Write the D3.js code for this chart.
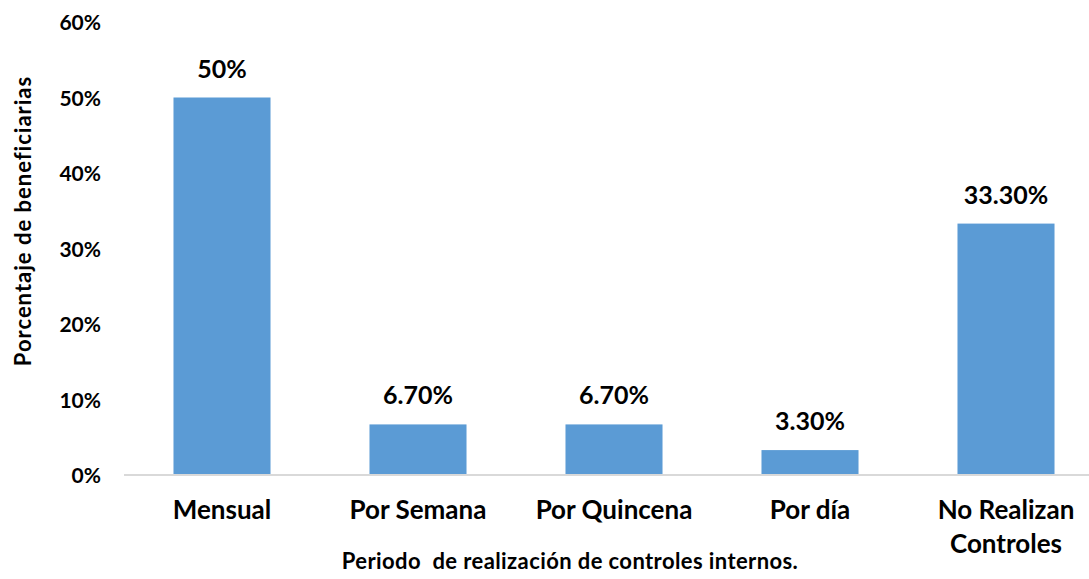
<!DOCTYPE html>
<html>
<head>
<meta charset="utf-8">
<script src="https://cdn.jsdelivr.net/npm/d3@7"></script>
<style>
  html, body { margin: 0; padding: 0; background: #fff; }
  svg text { font-family: Lato, "Open Sans", sans-serif; font-weight: bold; fill: #000; }
</style>
</head>
<body>
<script>
// Periodicity of internal controls among beneficiaries
const categories = ["Mensual", "Por Semana", "Por Quincena", "Por día", "No Realizan Controles"];
const values = [50, 6.7, 6.7, 3.3, 33.3];
const valueLabels = ["50%", "6.70%", "6.70%", "3.30%", "33.30%"];
const yTicks = [0, 10, 20, 30, 40, 50, 60];

const W = 1089, H = 579;
const svg = d3.select("body").append("svg").attr("width", W).attr("height", H);

const x = d3.scaleBand().domain(categories).range([124, 1104]).paddingInner(0.505).paddingOuter(0.2525);
const y = d3.scaleLinear().domain([0, 60]).range([475, 22]);

// bars
svg.selectAll("rect.bar").data(categories).join("rect")
  .attr("class", "bar")
  .attr("x", d => x(d))
  .attr("width", x.bandwidth())
  .attr("y", (d, i) => y(values[i]))
  .attr("height", (d, i) => y(0) - y(values[i]))
  .attr("fill", "#5B9BD5");

// baseline
svg.append("line")
  .attr("x1", 124).attr("x2", W)
  .attr("y1", y(0)).attr("y2", y(0))
  .attr("stroke", "#D9D9D9").attr("stroke-width", 2);

// y tick labels
const yAxis = d3.axisLeft(y).tickValues(yTicks).tickFormat(d => d + "%").tickSize(0).tickPadding(0);
const gy = svg.append("g").attr("transform", "translate(101,0)").call(yAxis);
gy.select(".domain").remove();
gy.selectAll("text").style("font-size", "21px").attr("dy", "0.36em");

// value labels
svg.selectAll("text.val").data(categories).join("text")
  .attr("class", "val")
  .attr("x", d => x(d) + x.bandwidth() / 2)
  .attr("y", (d, i) => y(values[i]) - 20)
  .attr("text-anchor", "middle")
  .style("font-size", "25px")
  .text((d, i) => valueLabels[i]);

// category labels (wrapped)
const catLines = { "No Realizan Controles": ["No Realizan", "Controles"] };
svg.selectAll("text.cat").data(categories).join("text")
  .attr("class", "cat")
  .attr("text-anchor", "middle")
  .style("font-size", "26px")
  .each(function(d) {
    const lines = catLines[d] || [d];
    const t = d3.select(this);
    lines.forEach((ln, k) => {
      t.append("tspan")
        .attr("x", x(d) + x.bandwidth() / 2)
        .attr("y", 519 + k * 34)
        .text(ln);
    });
  });

// axis titles
svg.append("text")
  .attr("x", 570).attr("y", 569)
  .attr("text-anchor", "middle")
  .style("font-size", "22px")
  .style("letter-spacing", "0.4px")
  .style("white-space", "pre")
  .attr("xml:space", "preserve")
  .text("Periodo  de realización de controles internos.");

svg.append("text")
  .attr("transform", "translate(31,221) rotate(-90)")
  .attr("text-anchor", "middle")
  .style("font-size", "22px")
  .style("letter-spacing", "1px")
  .text("Porcentaje de beneficiarias");
</script>
</body>
</html>
